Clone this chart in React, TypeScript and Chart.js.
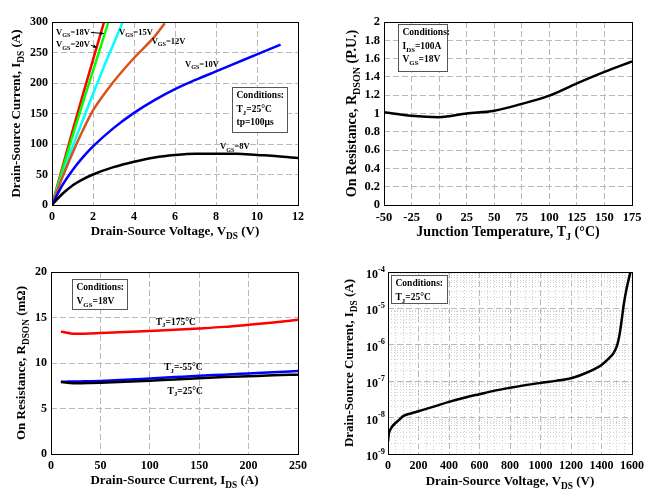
import React, { useEffect, useRef } from 'react';
import { Chart, registerables } from 'chart.js';
Chart.register(...registerables);

const FONT = "'Liberation Serif', 'Times New Roman', serif";

// ===== Panel 1: output characteristics (I_DS vs V_DS) =====
const outVdsTicks = [0, 2, 4, 6, 8, 10, 12];
const outIdsTicks = [0, 50, 100, 150, 200, 250, 300];
const vgs8Vds = [0, 0.5, 1, 1.5, 2, 3, 4, 5, 6, 7, 8, 9, 10, 11, 12];
const vgs8Ids = [0, 18, 32, 42, 50, 62, 71, 78, 82, 84, 84, 84, 82, 80, 77];
const vgs10Vds = [0, 0.5, 1, 1.5, 2, 3, 4, 5, 6, 7, 8, 9, 10, 11.15];
const vgs10Ids = [0, 32, 57, 78, 96, 126, 151, 172, 190, 205, 219, 233, 247, 263];
const vgs12Vds = [0, 0.5, 1, 1.5, 2, 3, 4, 5, 5.5];
const vgs12Ids = [0, 45, 85, 122, 155, 202, 241, 276, 298];
const vgs15Vds = [0, 0.5, 1, 1.5, 2, 2.5, 3, 3.45];
const vgs15Ids = [0, 48, 95, 139, 182, 224, 264, 300];
const vgs18Vds = [0, 0.5, 1, 1.5, 2, 2.5, 2.75];
const vgs18Ids = [0, 57, 113, 167, 220, 273, 300];
const vgs20Vds = [0, 0.5, 1, 1.5, 2, 2.54];
const vgs20Ids = [0, 61, 121, 180, 238, 300];

// ===== Panel 2: normalized on-resistance vs junction temperature =====
const tempTicks = [-50, -25, 0, 25, 50, 75, 100, 125, 150, 175];
const puTicks = [0, 0.2, 0.4, 0.6, 0.8, 1, 1.2, 1.4, 1.6, 1.8, 2];
const tempC = [-50, -25, 0, 25, 50, 75, 100, 125, 150, 175];
const rdsonPU = [1.015, 0.975, 0.96, 1.0, 1.03, 1.105, 1.195, 1.33, 1.455, 1.57];

// ===== Panel 3: on-resistance vs drain current =====
const idsTicks = [0, 50, 100, 150, 200, 250];
const mohmTicks = [0, 5, 10, 15, 20];
const idsA = [10, 15, 20, 25, 30, 40, 50, 75, 100, 125, 150, 175, 200, 225, 250];
const rdson175 = [13.45, 13.35, 13.25, 13.22, 13.22, 13.25, 13.3, 13.4, 13.52, 13.65, 13.8, 13.97, 14.2, 14.45, 14.75];
const rdsonM55 = [7.95, 7.95, 7.96, 7.97, 7.98, 8.0, 8.03, 8.15, 8.3, 8.45, 8.6, 8.72, 8.85, 8.98, 9.12];
const rdson25 = [7.9, 7.85, 7.8, 7.78, 7.78, 7.8, 7.83, 7.93, 8.05, 8.2, 8.33, 8.45, 8.55, 8.65, 8.72];

// ===== Panel 4: blocking leakage current =====
const leakVdsLabels = [0, 200, 400, 600, 800, 1000, 1200, 1400, 1600];
const leakDecades = [-9, -8, -7, -6, -5, -4];
const leakVds = [0, 5, 10, 25, 50, 75, 100, 150, 200, 300, 400, 500, 600, 700, 800, 900, 1000, 1100, 1200, 1300, 1350, 1400, 1450, 1480, 1500, 1515, 1530, 1545, 1560, 1575, 1590];
const leakIds = [2.2e-9, 3.5e-9, 4.2e-9, 5.5e-9, 7.2e-9, 8.8e-9, 1.1e-8, 1.3e-8, 1.5e-8, 2.0e-8, 2.7e-8, 3.5e-8, 4.4e-8, 5.5e-8, 6.6e-8, 7.8e-8, 9.0e-8, 1.02e-7, 1.2e-7, 1.7e-7, 2.1e-7, 2.8e-7, 4.3e-7, 6e-7, 9e-7, 1.6e-6, 4e-6, 1.2e-5, 2.8e-5, 5.5e-5, 1e-4];

// ---------- rich text (sub/superscripts) ----------
type Seg = { t: string; mode: 'n' | 'sub' | 'sup' };
function parseRich(s: string): Seg[] {
  const out: Seg[] = [];
  const re = /([_^])\{([^}]*)\}/g;
  let last = 0;
  let m: RegExpExecArray | null;
  while ((m = re.exec(s))) {
    if (m.index > last) out.push({ t: s.slice(last, m.index), mode: 'n' });
    out.push({ t: m[2], mode: m[1] === '_' ? 'sub' : 'sup' });
    last = re.lastIndex;
  }
  if (last < s.length) out.push({ t: s.slice(last), mode: 'n' });
  return out;
}

function drawRich(ctx: CanvasRenderingContext2D, s: string, x: number, y: number, size: number, align: 'left' | 'center' | 'right', rotate = false): number {
  const segs = parseRich(s);
  const small = size * 0.72;
  const fontFor = (mode: string) => `bold ${mode === 'n' ? size : small}px ${FONT}`;
  let w = 0;
  const widths = segs.map((sg) => {
    ctx.font = fontFor(sg.mode);
    const ww = ctx.measureText(sg.t).width;
    w += ww;
    return ww;
  });
  ctx.save();
  ctx.translate(x, y);
  if (rotate) ctx.rotate(-Math.PI / 2);
  let cx = align === 'left' ? 0 : align === 'center' ? -w / 2 : -w;
  ctx.fillStyle = '#000';
  ctx.textBaseline = 'middle';
  ctx.textAlign = 'left';
  segs.forEach((sg, i) => {
    ctx.font = fontFor(sg.mode);
    const dy = sg.mode === 'sub' ? size * 0.35 : sg.mode === 'sup' ? -size * 0.4 : 0;
    ctx.fillText(sg.t, cx, dy);
    cx += widths[i];
  });
  ctx.restore();
  return w;
}

type Series = { xs: number[]; ys: number[]; color: string };
type Box = { x1: number; y1: number; x2: number; y2: number; lines: string[] };
type Label = { x: number; y: number; text: string; arrowTo?: [number, number] };
type Panel = {
  left: number; top: number; w: number; h: number;
  area: { left: number; top: number; right: number; bottom: number };
  xMin: number; xMax: number; yMin: number; yMax: number; logY?: boolean;
  xTicks: number[]; xLabels: number[]; yTicks: number[]; yLabels: number[];
  series: Series[];
  xTitle: string; yTitle: string; titleSize: number; xTitleGap: number; yTitleGap: number;
  tickSize: number;
  boxes: Box[]; boxFont: number; labels: Label[]; labelFont: number;
  logExps?: number[];
};

function minorBetween(majors: number[], parts: number): number[] {
  const out: number[] = [];
  for (let i = 0; i < majors.length; i++) {
    out.push(majors[i]);
    if (i < majors.length - 1) {
      const step = (majors[i + 1] - majors[i]) / parts;
      for (let k = 1; k < parts; k++) out.push(majors[i] + k * step);
    }
  }
  return out;
}
function logTicks(exps: number[]): number[] {
  const out: number[] = [];
  exps.forEach((e, i) => {
    out.push(Math.pow(10, e));
    if (i < exps.length - 1) for (let k = 2; k <= 9; k++) out.push(k * Math.pow(10, e));
  });
  return out;
}

function makeDecor(p: Panel) {
  return {
    id: 'decor',
    afterDraw(chart: any) {
      const ctx: CanvasRenderingContext2D = chart.ctx;
      const a = chart.chartArea;
      const xs = chart.scales.x;
      const ys = chart.scales.y;
      // frame
      ctx.save();
      ctx.strokeStyle = '#000';
      ctx.lineWidth = 1;
      ctx.strokeRect(Math.round(a.left) + 0.5, Math.round(a.top) + 0.5, Math.round(a.right - a.left), Math.round(a.bottom - a.top));
      ctx.restore();
      // axis titles
      drawRich(ctx, p.xTitle, (a.left + a.right) / 2, a.bottom + p.xTitleGap, p.titleSize, 'center');
      drawRich(ctx, p.yTitle, a.left - p.yTitleGap, (a.top + a.bottom) / 2, p.titleSize, 'center', true);
      // log-axis tick labels 10^n
      if (p.logExps) {
        for (const e of p.logExps) {
          const y = ys.getPixelForValue(Math.pow(10, e));
          const es = String(e);
          ctx.save();
          ctx.fillStyle = '#000';
          ctx.textBaseline = 'middle';
          ctx.font = `bold ${p.tickSize * 0.7}px ${FONT}`;
          const we = ctx.measureText(es).width;
          ctx.textAlign = 'left';
          ctx.fillText(es, a.left - 3 - we, y - 2.5);
          ctx.font = `bold ${p.tickSize}px ${FONT}`;
          ctx.textAlign = 'right';
          ctx.fillText('10', a.left - 3 - we, y + 3);
          ctx.restore();
        }
      }
      // condition boxes
      for (const b of p.boxes) {
        const x1 = Math.round(xs.getPixelForValue(b.x1)) + 0.5;
        const y1 = Math.round(ys.getPixelForValue(b.y1)) + 0.5;
        const x2 = Math.round(xs.getPixelForValue(b.x2)) + 0.5;
        const y2 = Math.round(ys.getPixelForValue(b.y2)) + 0.5;
        ctx.save();
        ctx.fillStyle = '#fff';
        ctx.fillRect(x1, y1, x2 - x1, y2 - y1);
        ctx.strokeStyle = '#555';
        ctx.lineWidth = 1;
        ctx.strokeRect(x1, y1, x2 - x1, y2 - y1);
        ctx.restore();
        b.lines.forEach((ln, i) => drawRich(ctx, ln, x1 + 4, y1 + 8.5 + i * 13.5, p.boxFont, 'left'));
      }
      // curve labels
      for (const l of p.labels) {
        const lx = xs.getPixelForValue(l.x);
        const ly = ys.getPixelForValue(l.y);
        const w = drawRich(ctx, l.text, lx, ly, p.labelFont, 'left');
        if (l.arrowTo) {
          const sx = lx + w + 1;
          const ex = xs.getPixelForValue(l.arrowTo[0]);
          const ey = ys.getPixelForValue(l.arrowTo[1]);
          ctx.save();
          ctx.strokeStyle = '#000';
          ctx.fillStyle = '#000';
          ctx.lineWidth = 1;
          ctx.beginPath();
          ctx.moveTo(sx, ly);
          ctx.lineTo(ex, ey);
          ctx.stroke();
          const ang = Math.atan2(ey - ly, ex - sx);
          ctx.beginPath();
          ctx.moveTo(ex, ey);
          ctx.lineTo(ex - 4 * Math.cos(ang - 0.45), ey - 4 * Math.sin(ang - 0.45));
          ctx.lineTo(ex - 4 * Math.cos(ang + 0.45), ey - 4 * Math.sin(ang + 0.45));
          ctx.closePath();
          ctx.fill();
          ctx.restore();
        }
      }
    },
  };
}

const isPow10 = (v: number) => Math.abs(Math.log10(v) - Math.round(Math.log10(v))) < 1e-6;

function buildConfig(p: Panel): any {
  const tickFont = { family: FONT, weight: 'bold', size: p.tickSize };
  const xMajor = (v: number) => p.xLabels.some((l) => Math.abs(l - v) < 1e-9);
  const yMajor = (v: number) => (p.logY ? isPow10(v) : true);
  return {
    type: 'line',
    data: {
      datasets: p.series.map((s) => ({
        data: s.xs.map((x, i) => ({ x, y: s.ys[i] })),
        borderColor: s.color,
        borderWidth: 2.5,
        pointRadius: 0,
        fill: false,
        cubicInterpolationMode: 'monotone',
      })),
    },
    options: {
      responsive: false,
      animation: false,
      events: [],
      layout: { padding: { left: 0, top: p.area.top, right: p.w - p.area.right, bottom: 0 } },
      plugins: { legend: { display: false }, tooltip: { enabled: false } },
      scales: {
        x: {
          type: 'linear',
          min: p.xMin,
          max: p.xMax,
          afterBuildTicks: (sc: any) => { sc.ticks = p.xTicks.map((v) => ({ value: v })); },
          afterFit: (sc: any) => { sc.height = p.h - p.area.bottom; },
          ticks: {
            autoSkip: false, maxRotation: 0, minRotation: 0, padding: 5, color: '#000', font: tickFont,
            callback: (v: number) => (xMajor(v) ? String(v) : ''),
          },
          grid: {
            drawTicks: false, lineWidth: 1,
            color: (c: any) => (c.tick && xMajor(c.tick.value) ? '#b9b9b9' : '#d0d0d0'),
          },
          border: { display: false, dash: (c: any) => (c.tick && !xMajor(c.tick.value) ? [1, 2] : [6, 3]) },
        },
        y: {
          type: p.logY ? 'logarithmic' : 'linear',
          min: p.yMin,
          max: p.yMax,
          afterBuildTicks: (sc: any) => { sc.ticks = p.yTicks.map((v) => ({ value: v })); },
          afterFit: (sc: any) => { sc.width = p.area.left; },
          ticks: {
            display: !p.logY, autoSkip: false, padding: 4, color: '#000', font: tickFont,
            callback: (v: number) => String(v),
          },
          grid: {
            drawTicks: false, lineWidth: 1,
            color: (c: any) => (c.tick && !yMajor(c.tick.value) ? '#d0d0d0' : '#b9b9b9'),
          },
          border: { display: false, dash: (c: any) => (c.tick && !yMajor(c.tick.value) ? [1, 2] : [6, 3]) },
        },
      },
    },
    plugins: [makeDecor(p)],
  };
}

const panels: Panel[] = [
  {
    left: 0, top: 0, w: 329, h: 252,
    area: { left: 52, top: 22, right: 298, bottom: 205 },
    xMin: 0, xMax: 12, yMin: 0, yMax: 300,
    xTicks: outVdsTicks, xLabels: outVdsTicks, yTicks: outIdsTicks, yLabels: outIdsTicks,
    series: [
      { xs: vgs8Vds, ys: vgs8Ids, color: '#000000' },
      { xs: vgs10Vds, ys: vgs10Ids, color: '#0000ff' },
      { xs: vgs12Vds, ys: vgs12Ids, color: '#d95319' },
      { xs: vgs15Vds, ys: vgs15Ids, color: '#00ffff' },
      { xs: vgs18Vds, ys: vgs18Ids, color: '#00ff00' },
      { xs: vgs20Vds, ys: vgs20Ids, color: '#ff0000' },
    ],
    xTitle: 'Drain-Source Voltage, V_{DS} (V)', yTitle: 'Drain-Source Current, I_{DS} (A)',
    titleSize: 13, xTitleGap: 27, yTitleGap: 35, tickSize: 12,
    boxes: [{ x1: 8.78, y1: 194, x2: 11.46, y2: 120, lines: ['Conditions:', 'T_{J}=25°C', 'tp=100μs'] }],
    boxFont: 9.5,
    labels: [
      { x: 0.2, y: 283, text: 'V_{GS}=18V', arrowTo: [2.52, 281] },
      { x: 0.2, y: 262, text: 'V_{GS}=20V', arrowTo: [2.18, 258] },
      { x: 3.27, y: 283, text: 'V_{GS}=15V' },
      { x: 4.86, y: 268, text: 'V_{GS}=12V' },
      { x: 6.49, y: 230, text: 'V_{GS}=10V' },
      { x: 8.2, y: 95, text: 'V_{GS}=8V' },
    ],
    labelFont: 8.5,
  },
  {
    left: 329, top: 0, w: 329, h: 252,
    area: { left: 55, top: 22, right: 303, bottom: 205 },
    xMin: -50, xMax: 175, yMin: 0, yMax: 2,
    xTicks: tempTicks, xLabels: tempTicks, yTicks: puTicks, yLabels: puTicks,
    series: [{ xs: tempC, ys: rdsonPU, color: '#000000' }],
    xTitle: 'Junction Temperature, T_{J} (°C)', yTitle: 'On Resistance, R_{DSON} (P.U.)',
    titleSize: 14, xTitleGap: 27, yTitleGap: 32, tickSize: 12.5,
    boxes: [{ x1: -37.6, y1: 1.973, x2: 6.8, y2: 1.468, lines: ['Conditions:', 'I_{DS}=100A', 'V_{GS}=18V'] }],
    boxFont: 9.5,
    labels: [],
    labelFont: 9,
  },
  {
    left: 0, top: 252, w: 329, h: 252,
    area: { left: 51, top: 20, right: 298, bottom: 202 },
    xMin: 0, xMax: 250, yMin: 0, yMax: 20,
    xTicks: idsTicks, xLabels: idsTicks, yTicks: mohmTicks, yLabels: mohmTicks,
    series: [
      { xs: idsA, ys: rdson175, color: '#ff0000' },
      { xs: idsA, ys: rdson25, color: '#000000' },
      { xs: idsA, ys: rdsonM55, color: '#0000ff' },
    ],
    xTitle: 'Drain-Source Current, I_{DS} (A)', yTitle: 'On Resistance, R_{DSON} (mΩ)',
    titleSize: 13, xTitleGap: 27, yTitleGap: 29, tickSize: 12,
    boxes: [{ x1: 21.7, y1: 19.18, x2: 76.5, y2: 15.96, lines: ['Conditions:', 'V_{GS}=18V'] }],
    boxFont: 9.5,
    labels: [
      { x: 106, y: 14.5, text: 'T_{J}=175°C' },
      { x: 114.6, y: 9.47, text: 'T_{J}=-55°C' },
      { x: 118, y: 6.9, text: 'T_{J}=25°C' },
    ],
    labelFont: 9.5,
  },
  {
    left: 329, top: 252, w: 329, h: 252,
    area: { left: 59, top: 20, right: 303, bottom: 202 },
    xMin: 0, xMax: 1600, yMin: 1e-9, yMax: 1e-4, logY: true,
    xTicks: minorBetween(leakVdsLabels, 4), xLabels: leakVdsLabels,
    yTicks: logTicks(leakDecades), yLabels: [],
    series: [{ xs: leakVds, ys: leakIds, color: '#000000' }],
    xTitle: 'Drain-Source Voltage, V_{DS} (V)', yTitle: 'Drain-Source Current, I_{DS} (A)',
    titleSize: 13, xTitleGap: 28, yTitleGap: 38, tickSize: 12,
    boxes: [{ x1: 18, y1: 8.05e-5, x2: 384, y2: 1.4e-5, lines: ['Conditions:', 'T_{J}=25°C'] }],
    boxFont: 9.5,
    labels: [],
    labelFont: 9,
    logExps: leakDecades,
  },
];

function PanelChart({ p }: { p: Panel }) {
  const ref = useRef<HTMLCanvasElement>(null);
  useEffect(() => {
    const chart = new Chart(ref.current as HTMLCanvasElement, buildConfig(p));
    return () => chart.destroy();
  }, []);
  return (
    <canvas
      ref={ref}
      width={p.w}
      height={p.h}
      style={{ position: 'absolute', left: p.left, top: p.top, width: p.w, height: p.h }}
    />
  );
}

export default function App() {
  return (
    <div style={{ position: 'fixed', left: 0, top: 0, width: 658, height: 504, background: '#fff', overflow: 'hidden' }}>
      {panels.map((p, i) => (
        <PanelChart key={i} p={p} />
      ))}
    </div>
  );
}
